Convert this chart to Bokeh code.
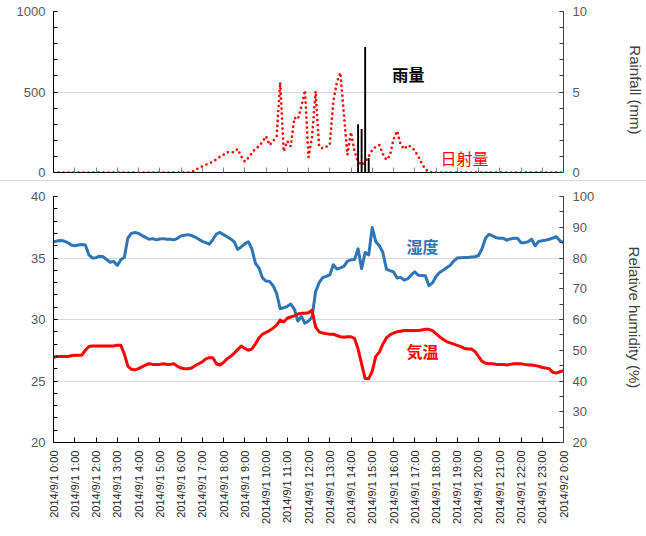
from bokeh.plotting import figure
from bokeh.models import Range1d, LinearAxis, FixedTicker, Label, Div, ColumnDataSource
from bokeh.layouts import column
from bokeh.embed import file_html
from bokeh.resources import INLINE

# ---- data (10-minute records, 2014/9/1 0:00 .. 2014/9/2 0:00) ----
minutes = list(range(0, 1441, 10))

tick_labels = [
    "2014/9/1 0:00", "2014/9/1 1:00", "2014/9/1 2:00", "2014/9/1 3:00",
    "2014/9/1 4:00", "2014/9/1 5:00", "2014/9/1 6:00", "2014/9/1 7:00",
    "2014/9/1 8:00", "2014/9/1 9:00", "2014/9/1 10:00", "2014/9/1 11:00",
    "2014/9/1 12:00", "2014/9/1 13:00", "2014/9/1 14:00", "2014/9/1 15:00",
    "2014/9/1 16:00", "2014/9/1 17:00", "2014/9/1 18:00", "2014/9/1 19:00",
    "2014/9/1 20:00", "2014/9/1 21:00", "2014/9/1 22:00", "2014/9/1 23:00",
    "2014/9/2 0:00",
]

solar = [
    0, 0, 0, 0, 0, 0,   0, 0, 0, 0, 0, 0,   0, 0, 0, 0, 0, 0,
    0, 0, 0, 0, 0, 0,   0, 0, 0, 0, 0, 0,   0, 0, 0, 0, 0, 0,
    0, 0, 0, 0, 15, 28,
    38, 48, 57, 66, 82, 98,
    110, 126, 122, 128, 146, 100,
    68, 90, 120, 148, 162, 190,
    225, 170, 195, 225, 560, 130,
    195, 163, 340, 330, 410, 510,
    95, 220, 505, 160, 150, 160,
    170, 440, 560, 620, 360, 110,
    250, 130, 70, 45, 65, 100,
    140, 160, 170, 115, 78, 105,
    205, 258, 175, 145, 168, 160,
    135, 100, 55, 20, 2, 0,
    0, 0, 0, 0, 0, 0,   0, 0, 0, 0, 0, 0,   0, 0, 0, 0, 0, 0,
    0, 0, 0, 0, 0, 0,   0, 0, 0, 0, 0, 0,   0, 0, 0, 0, 0, 0,
    0,
]

rain_minutes = [860, 870, 880, 890]
rain_mm = [3.0, 2.7, 7.8, 0.9]

temperature = [
    26.9, 27.0, 27.0, 27.0, 27.0, 27.05,
    27.1, 27.1, 27.1, 27.5, 27.8, 27.85,
    27.85, 27.85, 27.85, 27.85, 27.85, 27.85,
    27.9, 27.9, 27.2, 26.2, 25.95, 25.9,
    26.0, 26.15, 26.3, 26.4, 26.35, 26.35,
    26.35, 26.4, 26.35, 26.35, 26.4, 26.2,
    26.05, 26.0, 26.0, 26.05, 26.25, 26.4,
    26.55, 26.8, 26.9, 26.9, 26.4, 26.3,
    26.5, 26.8, 27.0, 27.25, 27.55, 27.85,
    27.65, 27.5, 27.6, 28.0, 28.5, 28.8,
    28.95, 29.1, 29.3, 29.55, 29.95, 29.8,
    30.1, 30.2, 30.3, 30.45, 30.5, 30.5,
    30.55, 30.75, 29.4, 29.0, 28.9, 28.85,
    28.8, 28.8, 28.7, 28.6, 28.55, 28.6,
    28.6, 28.45, 27.6, 26.4, 25.2, 25.2,
    25.8, 27.0, 27.35, 28.0, 28.5, 28.75,
    28.9, 29.0, 29.05, 29.1, 29.1, 29.1,
    29.1, 29.1, 29.15, 29.2, 29.2, 29.1,
    28.85, 28.6, 28.4, 28.2, 28.1, 28.0,
    27.9, 27.8, 27.65, 27.6, 27.6, 27.4,
    27.0, 26.6, 26.45, 26.4, 26.4, 26.35,
    26.35, 26.35, 26.3, 26.35, 26.4, 26.4,
    26.4, 26.35, 26.3, 26.3, 26.25, 26.2,
    26.1, 26.05, 26.0, 25.7, 25.65, 25.75,
    25.85,
]

humidity = [
    85.3, 85.5, 85.7, 85.5, 85.0, 84.2,
    84.0, 84.2, 84.4, 84.2, 81.0, 80.0,
    80.1, 80.6, 80.4, 79.5, 78.6, 78.9,
    77.6, 79.4, 80.2, 86.5, 88.0, 88.3,
    88.0, 87.3, 86.7, 86.1, 86.3, 85.9,
    86.2, 86.3, 86.1, 86.1, 85.9, 86.4,
    87.2, 87.4, 87.6, 87.3, 86.8, 86.1,
    85.4, 85.0, 84.5, 86.0, 87.8, 88.3,
    87.6, 86.9, 86.2, 85.3, 82.8, 83.6,
    84.6, 85.3, 83.0, 78.3, 76.8, 73.5,
    72.5, 72.4, 71.0, 68.5, 63.5, 63.8,
    64.3, 65.0, 63.4, 59.5, 61.0, 58.8,
    59.5, 60.8, 69.0, 72.0, 73.6, 74.0,
    74.5, 77.8, 76.4, 76.8, 77.3, 79.0,
    79.4, 79.5, 83.0, 76.5, 81.8, 81.0,
    89.9, 85.3, 84.0, 81.8, 76.4, 75.9,
    75.5, 73.5, 73.7, 72.8, 73.2, 74.5,
    75.5, 74.4, 74.3, 74.2, 71.0, 71.9,
    74.0, 75.3, 76.0, 76.8, 77.6, 79.0,
    80.0, 80.1, 80.2, 80.2, 80.3, 80.4,
    80.8, 83.0, 86.5, 87.7, 87.2, 86.6,
    86.4, 86.4, 85.8, 86.2, 86.4, 86.4,
    85.0, 85.0, 85.3, 86.1, 84.0, 85.4,
    85.6, 85.8, 86.1, 86.5, 86.9, 85.6,
    85.0,
]

# ---- sources ----
hours = [m / 60 for m in minutes]
src = ColumnDataSource(dict(h=hours, solar=solar, temp=temperature, hum=humidity))
rain_src = ColumnDataSource(dict(h=[m / 60 for m in rain_minutes], r=rain_mm))

tick_pos = list(range(len(tick_labels)))
overrides = {i: t for i, t in zip(tick_pos, tick_labels)}

NUM_FONT = "Liberation Sans"
GRID = "#d9d9d9"
TICKCOL = "#595959"

# ---------------- top panel ----------------
top = figure(width=646, height=180, x_range=Range1d(0, 24), y_range=Range1d(0, 1000),
             output_backend="svg", toolbar_location=None,
             min_border_left=53, min_border_right=75, min_border_top=11, min_border_bottom=8)
top.outline_line_color = None
top.background_fill_color = "white"
top.border_fill_color = "white"
top.extra_y_ranges = {"rain": Range1d(0, 10)}

top.xgrid.visible = False
top.ygrid.grid_line_color = GRID
top.ygrid.ticker = FixedTicker(ticks=[500, 1000])

xa = top.xaxis[0]
xa.ticker = FixedTicker(ticks=tick_pos)
xa.major_label_text_font_size = "1px"
xa.major_label_text_color = None
xa.major_label_standoff = 0
xa.major_tick_in = 5
xa.major_tick_out = 0
xa.major_tick_line_color = "#808080"
xa.minor_tick_line_color = None
xa.axis_line_color = "black"

ya = top.yaxis[0]
ya.ticker = FixedTicker(ticks=[0, 500, 1000], minor_ticks=list(range(0, 1001, 100)))
ya.major_tick_in = 4
ya.major_tick_out = 0
ya.minor_tick_in = 4
ya.minor_tick_out = 0
ya.axis_line_color = "black"
ya.major_tick_line_color = "black"
ya.minor_tick_line_color = "black"
ya.major_label_text_font = NUM_FONT
ya.major_label_text_font_size = "13px"
ya.major_label_text_color = TICKCOL
ya.major_label_standoff = 8

ra = LinearAxis(y_range_name="rain", axis_label="Rainfall  (mm)")
ra.ticker = FixedTicker(ticks=[0, 5, 10], minor_ticks=list(range(0, 11)))
ra.major_tick_in = 4
ra.major_tick_out = 0
ra.minor_tick_in = 4
ra.minor_tick_out = 0
ra.axis_line_color = "#404040"
ra.major_tick_line_color = "#404040"
ra.minor_tick_line_color = "#404040"
ra.major_label_text_font = NUM_FONT
ra.major_label_text_font_size = "13px"
ra.major_label_text_color = TICKCOL
ra.major_label_standoff = 9
ra.axis_label_text_font = NUM_FONT
ra.axis_label_text_font_size = "15px"
ra.axis_label_text_font_style = "normal"
ra.axis_label_text_color = "#404040"
ra.axis_label_standoff = 37
top.add_layout(ra, "right")

top.line("h", "solar", source=src, line_color="#ff0000", line_width=2.7,
         line_dash="0 5", line_cap="round", line_join="round")
top.vbar(x="h", top="r", width=0.09, bottom=0, source=rain_src, y_range_name="rain",
         fill_color="black", line_color=None)

top.add_layout(Label(x=16.7, y=609, text="雨量", text_font="Noto Sans CJK JP",
                     text_font_size="16px", text_font_style="bold", text_color="black",
                     text_align="center", text_baseline="middle"))
top.add_layout(Label(x=19.34, y=89, text="日射量", text_font="Noto Sans CJK JP",
                     text_font_size="16px", text_color="#ff0000",
                     text_align="center", text_baseline="middle"))

# ---------------- separator ----------------
sep = Div(text="", width=646, height=1, margin=0,
          styles={"background-color": "#d9d9d9"})

# ---------------- bottom panel ----------------
bot = figure(width=646, height=355, x_range=Range1d(0, 24), y_range=Range1d(20, 40),
             output_backend="svg", toolbar_location=None,
             min_border_left=48, min_border_right=78, min_border_top=15, min_border_bottom=94)
bot.outline_line_color = None
bot.extra_y_ranges = {"hum": Range1d(20, 100)}
bot.xgrid.visible = False
bot.ygrid.grid_line_color = GRID
bot.ygrid.ticker = FixedTicker(ticks=[25, 30, 35, 40])

bx = bot.xaxis[0]
bx.ticker = FixedTicker(ticks=tick_pos)
bx.major_label_overrides = overrides
bx.major_label_orientation = 1.5707963
bx.major_label_text_font = "Liberation Sans"
bx.major_label_text_font_size = "11px"
bx.major_label_text_color = "#262626"
bx.major_label_standoff = 8
bx.major_tick_in = 5
bx.major_tick_out = 0
bx.major_tick_line_color = "black"
bx.minor_tick_line_color = None
bx.axis_line_color = "black"

by = bot.yaxis[0]
by.ticker = FixedTicker(ticks=[20, 25, 30, 35, 40], minor_ticks=list(range(20, 41)))
by.major_tick_in = 4
by.major_tick_out = 0
by.minor_tick_in = 4
by.minor_tick_out = 0
by.axis_line_color = "black"
by.major_tick_line_color = "black"
by.minor_tick_line_color = "black"
by.major_label_text_font = NUM_FONT
by.major_label_text_font_size = "13px"
by.major_label_text_color = TICKCOL
by.major_label_standoff = 8

ha = LinearAxis(y_range_name="hum", axis_label="Relative humidity  (%)")
ha.ticker = FixedTicker(ticks=list(range(20, 101, 10)), minor_ticks=list(range(20, 101, 5)))
ha.major_tick_in = 4
ha.major_tick_out = 0
ha.minor_tick_in = 4
ha.minor_tick_out = 0
ha.axis_line_color = "#404040"
ha.major_tick_line_color = "#404040"
ha.minor_tick_line_color = "#404040"
ha.major_label_text_font = NUM_FONT
ha.major_label_text_font_size = "13px"
ha.major_label_text_color = TICKCOL
ha.major_label_standoff = 9
ha.axis_label_text_font = NUM_FONT
ha.axis_label_text_font_size = "15px"
ha.axis_label_text_font_style = "normal"
ha.axis_label_text_color = "#404040"
ha.axis_label_standoff = 29
bot.add_layout(ha, "right")

bot.line("h", "hum", source=src, y_range_name="hum", line_color="#2e75b6",
         line_width=3, line_join="round")
bot.line("h", "temp", source=src, line_color="#ff0000", line_width=3, line_join="round")

bot.add_layout(Label(x=17.36, y=36.0, text="湿度", text_font="Noto Sans CJK JP",
                     text_font_size="16px", text_font_style="bold", text_color="#2e75b6",
                     text_align="center", text_baseline="middle"))
bot.add_layout(Label(x=17.36, y=27.45, text="気温", text_font="Noto Sans CJK JP",
                     text_font_size="16px", text_font_style="bold", text_color="#ff0000",
                     text_align="center", text_baseline="middle"))

layout = column(top, sep, bot, spacing=0)
open("out.html", "w").write(file_html(layout, INLINE))
